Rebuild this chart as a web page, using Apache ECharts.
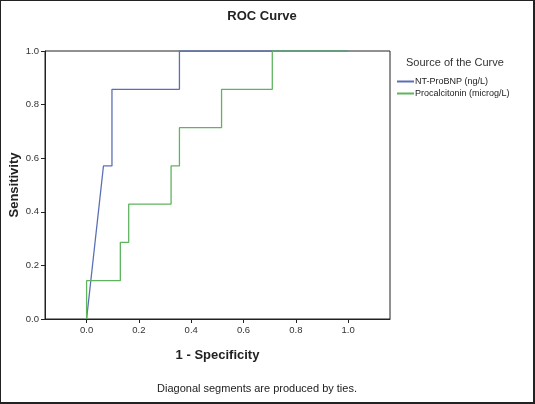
<!DOCTYPE html>
<html><head><meta charset="utf-8">
<script src="https://cdn.jsdelivr.net/npm/echarts@6/dist/echarts.min.js"></script>
<style>html,body{margin:0;padding:0;background:#fff}#c{width:535px;height:404px;box-sizing:border-box;border:1px solid #222;border-bottom-width:2px;border-right-width:2px}</style>
</head><body><div id="c"></div>
<script>
const seriesNames = ['NT-ProBNP (ng/L)', 'Procalcitonin (microg/L)'];
const ntProBnpX = [0, 0.0645, 0.097, 0.097, 0.355, 0.355, 1.0];
const ntProBnpY = [0, 0.571, 0.571, 0.857, 0.857, 1.0, 1.0];
const pctX = [0, 0, 0.129, 0.129, 0.161, 0.161, 0.323, 0.323, 0.355, 0.355, 0.516, 0.516, 0.71, 0.71, 1.0];
const pctY = [0, 0.143, 0.143, 0.286, 0.286, 0.429, 0.429, 0.571, 0.571, 0.714, 0.714, 0.857, 0.857, 1.0, 1.0];
const xTicks = [0, 0.2, 0.4, 0.6, 0.8, 1.0];
const colors = ['#5a70b6', '#5fb55f'];

const zip = (xs, ys) => xs.map((x, i) => [x, ys[i]]);
const chart = echarts.init(document.getElementById('c'));
const txt = '#222';
chart.setOption({
  animation: false,
  title: { text: 'ROC Curve', left: 256, textAlign: 'center', top: 4,
    textStyle: { fontFamily: 'Liberation Sans, Arial', fontSize: 13, fontWeight: 'bold', color: txt } },
  graphic: [
    { type: 'text', x: 405, y: 56, style: { text: 'Source of the Curve', fontFamily: 'Liberation Sans, Arial', fontSize: 11, fill: '#333' } },
    { type: 'text', x: 256, y: 382, style: { text: 'Diagonal segments are produced by ties.', fontFamily: 'Liberation Sans, Arial', fontSize: 11, fill: txt, align: 'center', textAlign: 'center' } }
  ],
  legend: {
    data: seriesNames, orient: 'vertical', left: 396, top: 76, itemGap: 3, padding: 0,
    itemWidth: 17, itemHeight: 2, icon: 'rect',
    textStyle: { fontFamily: 'Liberation Sans, Arial', fontSize: 9, color: txt, padding: [0, 0, 0, -4] }
  },
  grid: { left: 44, right: 143, top: 50, bottom: 83, show: true, borderColor: '#222', borderWidth: 1, containLabel: false, outerBoundsMode: 'none' },
  xAxis: {
    type: 'value', min: -0.159, max: 1.16,
    name: '1 - Specificity', nameLocation: 'middle', nameGap: 30, nameMoveOverlap: false,
    nameTextStyle: { fontFamily: 'Liberation Sans, Arial', fontSize: 13, fontWeight: 'bold', color: txt },
    axisLine: { show: true, onZero: false, lineStyle: { color: '#222' } },
    axisTick: { show: true, length: 4, lineStyle: { color: '#222' }, customValues: xTicks },
    axisLabel: { customValues: xTicks, formatter: v => v.toFixed(1), fontFamily: 'Liberation Sans, Arial', fontSize: 9.5, color: '#333', margin: 6 },
    splitLine: { show: false }
  },
  yAxis: {
    type: 'value', min: 0, max: 1, interval: 0.2,
    name: 'Sensitivity', nameLocation: 'middle', nameGap: 24, nameRotate: 90, nameMoveOverlap: false,
    nameTextStyle: { fontFamily: 'Liberation Sans, Arial', fontSize: 13, fontWeight: 'bold', color: txt },
    axisLine: { show: true, onZero: false, lineStyle: { color: '#222' } },
    axisTick: { show: true, length: 4, lineStyle: { color: '#222' } },
    axisLabel: { formatter: v => v.toFixed(1), fontFamily: 'Liberation Sans, Arial', fontSize: 9.5, color: '#333', margin: 6 },
    splitLine: { show: false }
  },
  series: [
    { name: seriesNames[0], type: 'line', data: zip(ntProBnpX, ntProBnpY), showSymbol: false, color: colors[0], lineStyle: { width: 1.3 } },
    { name: seriesNames[1], type: 'line', data: zip(pctX, pctY), showSymbol: false, color: colors[1], lineStyle: { width: 1.3 } }
  ]
});
</script></body></html>
